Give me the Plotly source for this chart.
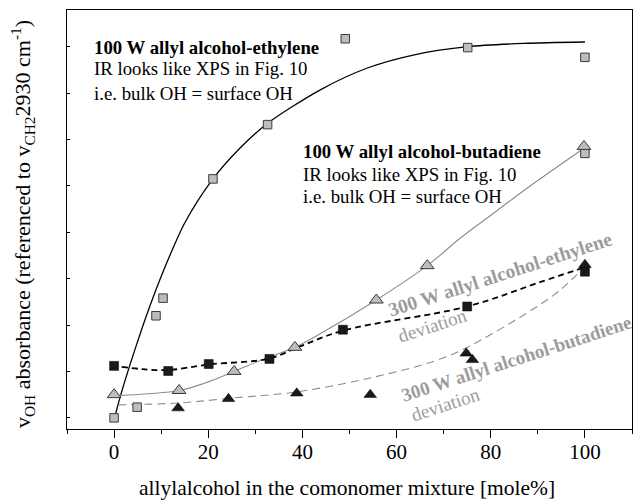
import plotly.graph_objects as go

# ---- data ----
# 100 W allyl alcohol-ethylene (grey squares)
eth100_x = [0, 4.9, 8.9, 10.4, 21.0, 32.6, 49.1, 75.1, 100, 100]
eth100_y = [0, 0.23, 2.20, 2.58, 5.15, 6.32, 8.17, 7.98, 7.77, 5.70]
# fit curve (black solid)
eth100_fit_x = [0, 1.2, 3.3, 5.9, 8.0, 11.1, 15.0, 21.0, 26.6, 32.5, 43.8, 53.8, 64.0, 75.1, 87.0, 100]
eth100_fit_y = [-0.05, 0.42, 1.12, 1.92, 2.52, 3.32, 4.20, 5.15, 5.80, 6.34, 7.07, 7.54, 7.83, 8.00, 8.07, 8.10]

# 100 W allyl alcohol-butadiene (grey triangles)
bd100_x = [0, 13.8, 25.5, 38.4, 55.7, 66.5, 99.8]
bd100_y = [0.50, 0.59, 1.00, 1.52, 2.54, 3.28, 5.85]
bd100_fit_x = [0.85, 13.8, 19.3, 25.5, 31.4, 38.4, 43.4, 55.7, 66.5, 73.5, 80.6, 87.7, 99.5]
bd100_fit_y = [0.48, 0.59, 0.75, 1.00, 1.25, 1.52, 1.79, 2.54, 3.28, 3.87, 4.41, 4.95, 5.79]

# 300 W allyl alcohol-ethylene (black squares)
eth300_x = [0, 11.5, 20.1, 33.0, 48.6, 75.0, 100]
eth300_y = [1.12, 1.01, 1.16, 1.27, 1.90, 2.40, 3.15]
eth300_fit_x = [1.6, 6.0, 11.5, 20.1, 33.0, 39.5, 48.6, 75.0, 90.6, 99.5]
eth300_fit_y = [1.10, 1.05, 1.03, 1.15, 1.28, 1.54, 1.88, 2.40, 2.93, 3.23]

# 300 W allyl alcohol-butadiene (black triangles)
bd300_x = [13.6, 24.3, 38.8, 54.4, 74.8, 76.1, 100]
bd300_y = [0.21, 0.41, 0.53, 0.50, 1.39, 1.25, 3.30]
bd300_fit_x = [0.85, 13.6, 24.3, 38.8, 54.4, 67.9, 74.6, 89.1, 94.8, 99.4]
bd300_fit_y = [0.28, 0.32, 0.42, 0.56, 0.86, 1.22, 1.50, 2.35, 2.76, 3.20]

x_ticks = [0, 20, 40, 60, 80, 100]
y_ticks = [0, 1, 2, 3, 4, 5, 6, 7, 8]

FONT = "Liberation Serif"
GREY_TXT = "#9c9c9c"

fig = go.Figure()

# fit lines
fig.add_trace(go.Scatter(x=eth100_fit_x, y=eth100_fit_y, mode="lines",
                         line=dict(color="black", width=1.3, shape="spline", smoothing=0.8)))
fig.add_trace(go.Scatter(x=bd100_fit_x, y=bd100_fit_y, mode="lines",
                         line=dict(color="#8c8c8c", width=1.1, shape="spline")))
fig.add_trace(go.Scatter(x=eth300_fit_x, y=eth300_fit_y, mode="lines",
                         line=dict(color="black", width=1.8, shape="spline", dash="6px,4px")))
fig.add_trace(go.Scatter(x=bd300_fit_x, y=bd300_fit_y, mode="lines",
                         line=dict(color="#8c8c8c", width=1.1, shape="spline", dash="8px,5px")))

# markers
fig.add_trace(go.Scatter(x=eth100_x, y=eth100_y, mode="markers",
                         marker=dict(symbol="square", size=8.5, color="#bdbdbd",
                                     line=dict(color="#3a3a3a", width=1))))
fig.add_trace(go.Scatter(x=bd100_x, y=bd100_y, mode="markers",
                         marker=dict(symbol="triangle-up", size=12, color="#bdbdbd",
                                     line=dict(color="#3a3a3a", width=1))))
fig.add_trace(go.Scatter(x=eth300_x, y=eth300_y, mode="markers",
                         marker=dict(symbol="square", size=9, color="#1a1a1a",
                                     line=dict(color="black", width=0.5))))
fig.add_trace(go.Scatter(x=bd300_x, y=bd300_y, mode="markers",
                         marker=dict(symbol="triangle-up", size=11, color="#1a1a1a",
                                     line=dict(color="black", width=0.5))))

ann = []
def txt(x, y, s, size=18.5, color="black", angle=0, xanchor="left"):
    ann.append(dict(x=x, y=y, xref="x", yref="y", text=s, showarrow=False,
                    xanchor=xanchor, yanchor="middle", textangle=angle,
                    font=dict(family=FONT, size=size, color=color)))

txt(-4.7, 7.98, "<b>100 W allyl alcohol-ethylene</b>", size=18.8)
txt(-4.7, 7.53, "IR looks like XPS in Fig. 10", size=18.8)
txt(-4.7, 6.99, "i.e. bulk OH = surface OH", size=18.8)
txt(39.6, 5.74, "<b>100 W allyl alcohol-butadiene</b>", size=18.8)
txt(39.6, 5.24, "IR looks like XPS in Fig. 10", size=18.8)
txt(39.6, 4.77, "i.e. bulk OH = surface OH", size=18.8)

txt(82.0, 3.10, "<b>300 W allyl alcohol-ethylene</b>", size=19.5, color=GREY_TXT, angle=-18, xanchor="center")
txt(67.7, 1.98, "deviation", size=19, color=GREY_TXT, angle=-18, xanchor="center")
txt(85.5, 1.29, "<b>300 W allyl alcohol-butadiene</b>", size=19, color=GREY_TXT, angle=-18, xanchor="center")
txt(70.4, 0.28, "deviation", size=19, color=GREY_TXT, angle=-18, xanchor="center")

# axis titles
ann.append(dict(x=(347 - 67) / 565, y=(429 - 488) / 419, xref="paper", yref="paper",
                text="allylalcohol in the comonomer mixture [mole%]", showarrow=False,
                xanchor="center", yanchor="middle",
                font=dict(family=FONT, size=21.5, color="black")))
ann.append(dict(x=(23 - 67) / 565, y=(429 - 224) / 419, xref="paper", yref="paper",
                text="v<sub>OH</sub> absorbance (referenced to v<sub>CH2</sub>2930 cm<sup>-1</sup>)",
                showarrow=False, textangle=-90, xanchor="center", yanchor="middle",
                font=dict(family=FONT, size=22, color="black")))

fig.update_layout(
    width=636, height=501,
    margin=dict(l=67, r=4, t=10, b=72),
    paper_bgcolor="white", plot_bgcolor="white",
    showlegend=False,
    annotations=ann,
    xaxis=dict(range=[-10, 110], tickvals=x_ticks, ticks="outside", ticklen=8, tickwidth=1.2,
               tickcolor="black", showline=True, linecolor="black", linewidth=1.3,
               mirror=True, showgrid=False, zeroline=False, ticklabelstandoff=-4,
               minor=dict(tickvals=[-10, 10, 30, 50, 70, 90, 110], ticks="outside", ticklen=4,
                          tickwidth=1.2, tickcolor="black", showgrid=False),
               tickfont=dict(family=FONT, size=21, color="black")),
    yaxis=dict(range=[-0.24, 8.79], tickvals=y_ticks, ticks="inside", ticklen=3, tickwidth=1.2,
               tickcolor="black", showticklabels=False, showline=True, linecolor="black",
               linewidth=1.3, mirror=True, showgrid=False, zeroline=False),
)

fig.write_html("out.html")
